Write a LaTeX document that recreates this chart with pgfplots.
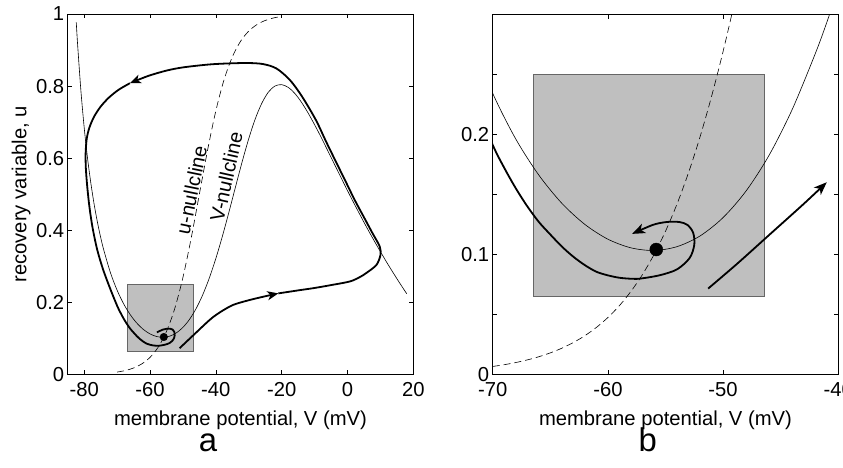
\documentclass[border=0pt]{standalone}
\usepackage{fontspec}
\setmainfont{Liberation Sans}
\usepackage{pgfplots}
\pgfplotsset{compat=1.18}
\usetikzlibrary{arrows.meta}

\pgfplotsset{
  phase/.style={
    scale only axis, width=345.6bp, height=360.5bp,
    axis line style={line width=0.8bp, black},
    tick align=inside, major tick length=4.5bp,
    tick style={line width=0.6bp, black},
    xtick pos=both, ytick pos=both,
    /pgf/number format/assume math mode=true,
    tick label style={font=\fontsize{20.3}{24}\selectfont},
    xticklabel style={yshift=-4bp},
    label style={font=\fontsize{20.3}{24}\selectfont},
    xlabel style={at={(axis description cs:0.5,-0.127)}, anchor=center},
    clip mode=individual,
  },
  nullV/.style={black, line width=0.6bp, smooth},
  nullU/.style={black, line width=0.6bp, smooth, dash pattern=on 7bp off 4bp},
  traj/.style={black, line width=1.8bp, smooth},
  box/.style={fill=black!25, draw=black!60, line width=0.5bp},
}

\begin{document}
\begin{tikzpicture}
\useasboundingbox (-67.7bp,-93.5bp) rectangle (775.3bp,374.5bp);
% ---------------- panel a ----------------
\begin{axis}[phase,
  xmin=-85, xmax=20, ymin=0, ymax=1,
  xtick={-80,-60,-40,-20,0,20},
  ytick={0,0.2,0.4,0.6,0.8,1},
  yticklabels={0,0.2,0.4,0.6,0.8,1},
  xlabel={membrane potential, V (mV)},
  ylabel={recovery variable, u},
  ylabel style={at={(axis description cs:-0.135,0.5)}, anchor=center},
]
\addplot[box] coordinates {(-66.8,0.064) (-46.8,0.064) (-46.8,0.25) (-66.8,0.25)} -- cycle;
% u-nullcline
\addplot[nullU] coordinates {
(-70,0.0067) (-67.5,0.0110) (-65,0.0180) (-62.5,0.0293) (-60,0.0474) (-57.5,0.0759)
(-55,0.1192) (-52.5,0.1824) (-50,0.2689) (-47.5,0.3775) (-45,0.5) (-42.5,0.6225)
(-40,0.7311) (-37.5,0.8176) (-35,0.8808) (-32.5,0.9241) (-30,0.9526) (-27.5,0.9707)
(-25,0.9820) (-22.5,0.9890) (-20,0.9933)};
% V-nullcline
\addplot[nullV] coordinates {
(-82.4,0.977) (-82,0.917) (-81,0.7885) (-80,0.686) (-79,0.602) (-78,0.533) (-77,0.474)
(-76,0.424) (-75,0.381) (-74,0.344) (-72,0.282) (-70,0.234) (-68,0.196) (-66,0.166)
(-64,0.1425) (-62,0.1249) (-60,0.1126) (-58,0.1054) (-56,0.1032) (-54,0.1064)
(-52,0.1153) (-50,0.1306) (-48,0.1528) (-46,0.1826) (-44,0.2206) (-42,0.267)
(-40,0.3216) (-38,0.3836) (-36,0.451) (-34,0.521) (-32,0.590) (-30,0.654) (-28,0.7095)
(-26,0.753) (-24,0.7837) (-22,0.8003) (-20,0.804) (-18,0.7965) (-16,0.7797) (-14,0.7555)
(-12,0.726) (-10,0.693) (-8,0.658) (-6,0.621) (-4,0.584) (-2,0.547) (0,0.510) (2,0.4745)
(4,0.4396) (6,0.4055) (8,0.3727) (10,0.341) (12,0.310) (14,0.2805) (16,0.2518) (18,0.2241)};
% trajectory
\addplot[traj, -{Stealth[length=11bp, width=9bp, inset=3bp]}] coordinates {
(-51,0.073) (-48.8,0.092) (-45.9,0.117) (-43,0.142) (-41,0.158) (-38.5,0.174)
(-34.75,0.193) (-30,0.206) (-25,0.217) (-21,0.225)};
\addplot[traj, -{Stealth[length=11bp, width=9bp, inset=3bp]}] coordinates {
(-21,0.225) (-14.5,0.234) (-10,0.240) (-5,0.248) (0.7,0.258) (3.7,0.270) (5.8,0.282)
(8.8,0.304) (10,0.331) (9.8,0.355) (7.6,0.392) (4.9,0.438) (2.2,0.484) (-0.8,0.540)
(-3.5,0.59) (-6.6,0.648) (-9.6,0.706) (-13.8,0.771) (-17.5,0.817) (-21.6,0.849)
(-25.6,0.861) (-30,0.864) (-35.8,0.863) (-42,0.860) (-49.9,0.852) (-55,0.843)
(-60.6,0.828) (-66.1,0.808)};
\addplot[traj] coordinates {
(-66.1,0.808) (-69.5,0.790) (-72.5,0.768) (-75,0.743) (-77,0.715) (-78.4,0.685)
(-79.2,0.655) (-79.55,0.615) (-79.5,0.575) (-79.1,0.525) (-78.4,0.465) (-77.4,0.405)
(-76.0,0.345) (-74.2,0.290) (-72,0.236) (-70,0.191) (-69,0.172) (-68,0.155)
(-67,0.140) (-66,0.127) (-65,0.1165) (-64,0.1065) (-63,0.098) (-62,0.091)
(-61,0.0855) (-60,0.0825) (-59,0.0805) (-58,0.0797) (-57.2,0.0798) (-55.5,0.0826)
(-54.0,0.0875) (-52.9,0.097) (-52.5,0.108) (-52.6,0.118) (-53.1,0.1245)
(-53.8,0.1269) (-54.9,0.1269) (-56.1,0.1245) (-57.9,0.117)};
\addplot[only marks, mark=*, mark size=3.8bp, black] coordinates {(-55.8,0.104)};
\node[rotate=78.5, font=\fontsize{20}{24}\selectfont] at (axis cs:-47.4,0.512) {u-nullcline};
\node[rotate=77.5, font=\fontsize{20}{24}\selectfont] at (axis cs:-36.8,0.549) {V-nullcline};
\node[anchor=base, font=\fontsize{33}{38}\selectfont] at (axis description cs:0.406,-0.2147) {a};
\end{axis}
% ---------------- panel b ----------------
\begin{axis}[phase, at={(425bp,0)}, anchor=south west,
  xmin=-70, xmax=-40, ymin=0, ymax=0.3,
  xtick={-70,-60,-50,-40},
  ytick={0,0.05,0.1,0.15,0.2,0.25},
  yticklabels={0,,0.1,,0.2,},
  xlabel={membrane potential, V (mV)},
]
\addplot[box] coordinates {(-66.5,0.0653) (-46.4,0.0653) (-46.4,0.25) (-66.5,0.25)} -- cycle;
\addplot[nullU] coordinates {
(-70,0.00669) (-69,0.00816) (-68,0.00995) (-67,0.01213) (-66,0.01477) (-65,0.01799)
(-64,0.02188) (-63,0.02660) (-62,0.03230) (-61,0.03917) (-60,0.04743) (-59,0.05732)
(-58,0.06914) (-57,0.08317) (-56,0.09975) (-55,0.1192) (-54,0.1419) (-53,0.1680)
(-52,0.1978) (-51,0.2315) (-50,0.2689) (-49,0.3100) (-48,0.3543)};
\addplot[nullV] coordinates {
(-72,0.282) (-70,0.234) (-68,0.196) (-66,0.166) (-64,0.1425) (-62,0.1249) (-60,0.1126)
(-58,0.1054) (-56,0.1032) (-54,0.1064) (-52,0.1153) (-50,0.1306) (-48,0.1528)
(-46,0.1826) (-44,0.2206) (-42,0.267) (-41,0.293) (-40,0.3216)};
\addplot[traj, -{Stealth[length=13bp, width=10bp, inset=3.5bp]}] coordinates {
(-72,0.236) (-70,0.191) (-69,0.172) (-68,0.155) (-67,0.140) (-66,0.127)
(-65,0.1165) (-64,0.1065) (-63,0.098) (-62,0.091) (-61,0.0855) (-60,0.0825)
(-59,0.0805) (-58,0.0797) (-57.2,0.0798) (-55.5,0.0826) (-54.0,0.0875) (-52.9,0.097)
(-52.5,0.108) (-52.6,0.118) (-53.1,0.1245) (-53.8,0.1269) (-54.9,0.1269)
(-56.1,0.1245) (-57.9,0.117)};
\addplot[traj, -{Stealth[length=13bp, width=10bp, inset=3.5bp]}] coordinates {
(-51.3,0.0715) (-48.8,0.092) (-45.9,0.117) (-43,0.142) (-41,0.160)};
\addplot[only marks, mark=*, mark size=6.5bp, black] coordinates {(-55.8,0.104)};
\node[anchor=base, font=\fontsize{33}{38}\selectfont] at (axis description cs:0.449,-0.2147) {b};
\end{axis}
\end{tikzpicture}
\end{document}
